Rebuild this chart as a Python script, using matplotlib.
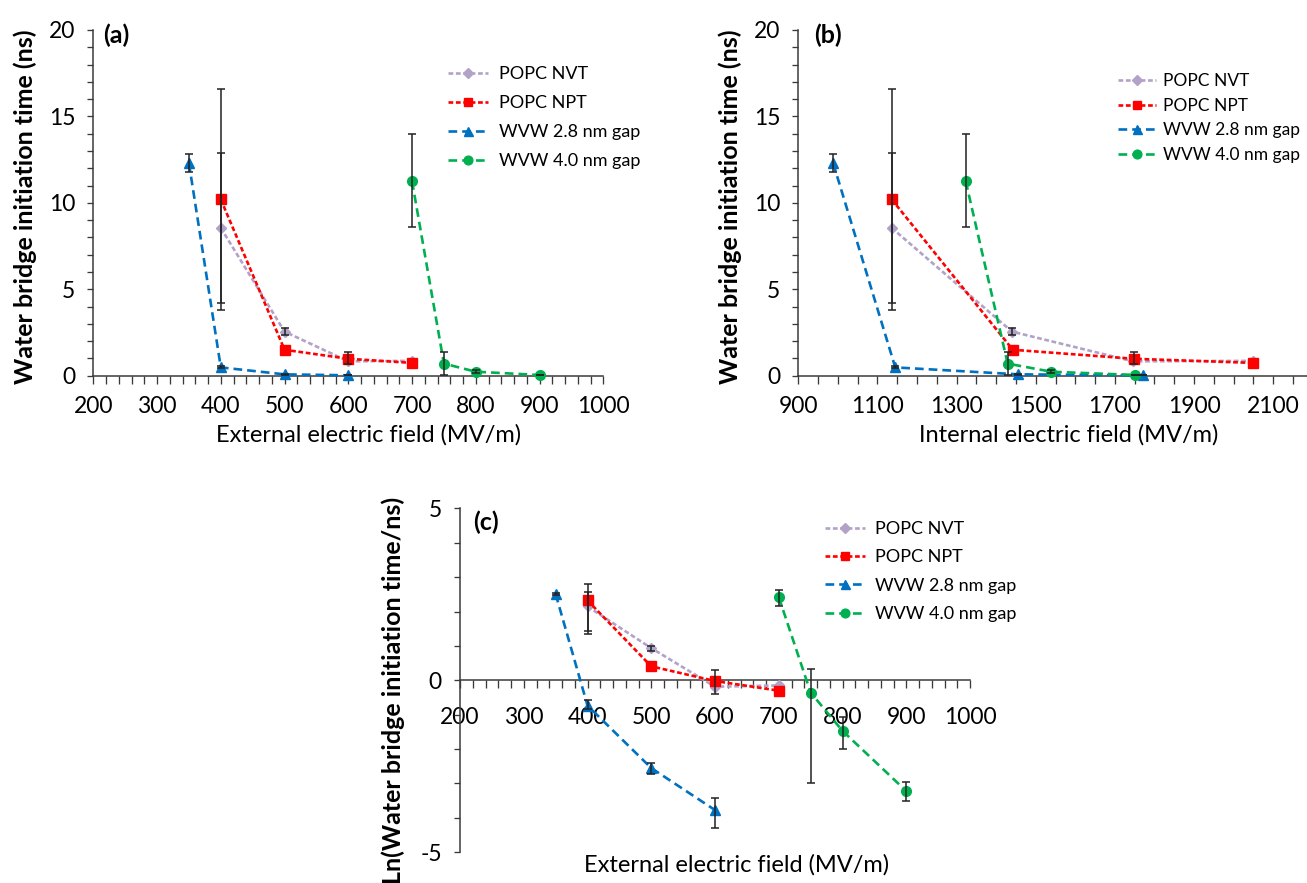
import numpy as np
import matplotlib
matplotlib.use("Agg")
import matplotlib.pyplot as plt
from matplotlib import font_manager as fm
from matplotlib.ticker import MultipleLocator

# ---- fonts -------------------------------------------------------------
_names = {f.name for f in fm.fontManager.ttflist}
FONT = "Liberation Sans Narrow" if "Liberation Sans Narrow" in _names else "Lato"
plt.rcParams["font.family"] = [FONT, "DejaVu Sans"]
plt.rcParams["axes.unicode_minus"] = False

nan = np.nan

# ---- data --------------------------------------------------------------
labels = ["POPC NVT", "POPC NPT", "WVW 2.8 nm gap", "WVW 4.0 nm gap"]

# external electric field (MV/m)
ext_nvt = [400, 500, 600, 700]
ext_npt = [400, 500, 600, 700]
ext_w28 = [350, 400, 500, 600]
ext_w40 = [700, 750, 800, 900]

# internal electric field (MV/m)
int_nvt = [1136, 1440, 1746, 2050]
int_npt = [1136, 1442, 1748, 2050]
int_w28 = [988, 1145, 1456, 1770]
int_w40 = [1323, 1429, 1539, 1752]

# water bridge initiation time (ns)
t_nvt = [8.55, 2.55, 0.83, 0.86]
t_npt = [10.2, 1.50, 0.98, 0.74]
t_w28 = [12.3, 0.48, 0.078, 0.023]
t_w40 = [11.25, 0.70, 0.23, 0.040]

# error-bar bounds (ns), NaN where no bar is drawn
lo_nvt = [4.2, 2.35, nan, nan]
hi_nvt = [12.9, 2.75, nan, nan]
lo_npt = [3.8, nan, 0.67, nan]
hi_npt = [16.6, nan, 1.35, nan]
lo_w28 = [11.8, 0.43, 0.066, 0.0136]
hi_w28 = [12.8, 0.56, 0.090, 0.033]
lo_w40 = [8.6, 0.05, 0.135, 0.030]
hi_w40 = [14.0, 1.37, 0.34, 0.052]

ext_x = [ext_nvt, ext_npt, ext_w28, ext_w40]
int_x = [int_nvt, int_npt, int_w28, int_w40]
times = [t_nvt, t_npt, t_w28, t_w40]
lows = [lo_nvt, lo_npt, lo_w28, lo_w40]
highs = [hi_nvt, hi_npt, hi_w28, hi_w40]

# ---- styles ------------------------------------------------------------
colors = ["#B3A2C7", "#FF0000", "#0070C0", "#00B050"]
markers = ["D", "s", "^", "o"]
msizes = [5.2, 7.0, 7.2, 7.0]
dashes = [(0, (1.8, 1.0)), (0, (1.8, 1.0)), (0, (3.3, 1.9)), (0, (3.3, 1.9))]
AXC = "#3a3a3a"
ERRC = "#222222"
TICK_FS = 16.5

W, H = 1307, 883
fig = plt.figure(figsize=(W / 100, H / 100), dpi=100)


def px_axes(l, r, t, b):
    return fig.add_axes([l / W, 1 - b / H, (r - l) / W, (b - t) / H])


def draw_series(ax, xs_list, ys_list, lo_list, hi_list, log=False):
    for i in range(4):
        x = np.asarray(xs_list[i], float)
        y = np.asarray(ys_list[i], float)
        lo = np.asarray(lo_list[i], float)
        hi = np.asarray(hi_list[i], float)
        if log:
            y, lo, hi = np.log(y), np.log(lo), np.log(hi)
        ax.plot(x, y, linestyle=dashes[i], color=colors[i], lw=1.9,
                marker=markers[i], ms=msizes[i], mec=colors[i], mfc=colors[i],
                label=labels[i], zorder=3, clip_on=False)
        ok = np.isfinite(lo)
        ax.errorbar(x[ok], y[ok], yerr=[y[ok] - lo[ok], hi[ok] - y[ok]],
                    fmt="none", ecolor=ERRC, elinewidth=1.1, capsize=3.0,
                    capthick=1.1, zorder=3.5, clip_on=False)


def style(ax, xlim, xmaj, xoff, xmin, ylim, ymaj, ymin, xpad):
    ax.set_xlim(*xlim)
    ax.set_ylim(*ylim)
    for s in ("top", "right"):
        ax.spines[s].set_visible(False)
    for s in ("left", "bottom"):
        ax.spines[s].set_color(AXC)
        ax.spines[s].set_linewidth(1.1)
    ax.xaxis.set_major_locator(MultipleLocator(xmaj, offset=xoff))
    ax.xaxis.set_minor_locator(MultipleLocator(xmin))
    ax.yaxis.set_major_locator(MultipleLocator(ymaj))
    ax.yaxis.set_minor_locator(MultipleLocator(ymin))
    ax.tick_params(axis="x", which="both", direction="out", length=5.4,
                   width=0.95, color=AXC, labelsize=TICK_FS, pad=xpad)
    ax.tick_params(axis="y", which="both", direction="out", length=4.0,
                   width=0.95, color=AXC, labelsize=TICK_FS, pad=9)
    ax.tick_params(which="minor", labelbottom=False, labelleft=False)
    ax.set_facecolor("none")


def legend(ax, left, top, spacing, textpad, fs=13):
    ax.legend(loc="upper left", bbox_to_anchor=(left / W, 1 - top / H),
              bbox_transform=fig.transFigure, frameon=False, fontsize=fs,
              handlelength=2.2, handletextpad=textpad, labelspacing=spacing,
              borderpad=0, borderaxespad=0, numpoints=1, markerscale=0.9)


def panel_tag(text, x, y):
    fig.text(x / W, 1 - y / H, text, fontsize=18, fontweight="bold",
             va="center", ha="left")


YLAB = "Water bridge initiation time (ns)"

# ---- (a) external field ------------------------------------------------
ax_a = px_axes(93.3, 603.3, 30, 375.7)
draw_series(ax_a, ext_x, times, lows, highs)
style(ax_a, (200, 1000), 100, 0, 20, (0, 20), 5, 1, 9)
ax_a.set_ylabel(YLAB, fontsize=18, fontweight="bold")
ax_a.yaxis.set_label_coords(-(93.3 - 37) / 510, 0.49)
ax_a.set_xlabel("External electric field (MV/m)", fontsize=17)
ax_a.xaxis.set_label_coords(0.54, -(424 - 375.7) / 345.7)
panel_tag("(a)", 103, 35)
legend(ax_a, 448, 66, 0.72, 0.6)

# ---- (b) internal field ------------------------------------------------
ax_b = px_axes(798.3, 1312.8, 30, 375.7)
draw_series(ax_b, int_x, times, lows, highs)
style(ax_b, (900, 2200), 200, 100, 50, (0, 20), 5, 1, 9)
ax_b.set_ylabel(YLAB, fontsize=18, fontweight="bold")
ax_b.yaxis.set_label_coords(-(798.3 - 742) / 514.5, 0.49)
ax_b.set_xlabel("Internal electric field (MV/m)", fontsize=17)
ax_b.xaxis.set_label_coords((1068.6 - 798.3) / 514.5, -(424 - 375.7) / 345.7)
panel_tag("(b)", 814, 35)
legend(ax_b, 1118, 73, 0.5, 0.4, fs=12.5)

# ---- (c) log of initiation time ----------------------------------------
ax_c = px_axes(460, 970, 508.3, 852.3)
draw_series(ax_c, ext_x, times, lows, highs, log=True)
style(ax_c, (200, 1000), 100, 0, 20, (-5, 5), 5, 1, 14)
ax_c.spines["bottom"].set_position(("data", 0))
ax_c.set_ylabel("Ln(Water bridge initiation time/ns)", fontsize=18,
                fontweight="bold")
ax_c.yaxis.set_label_coords(-(460 - 405) / 510, 0.47)
ax_c.set_xlabel("External electric field (MV/m)", fontsize=17)
ax_c.xaxis.set_label_coords((736.6 - 460) / 510, -(854 - 852.3) / 344)
panel_tag("(c)", 473, 522)
legend(ax_c, 825, 521, 0.68, 0.55)

fig.savefig("out.png", dpi=100)
